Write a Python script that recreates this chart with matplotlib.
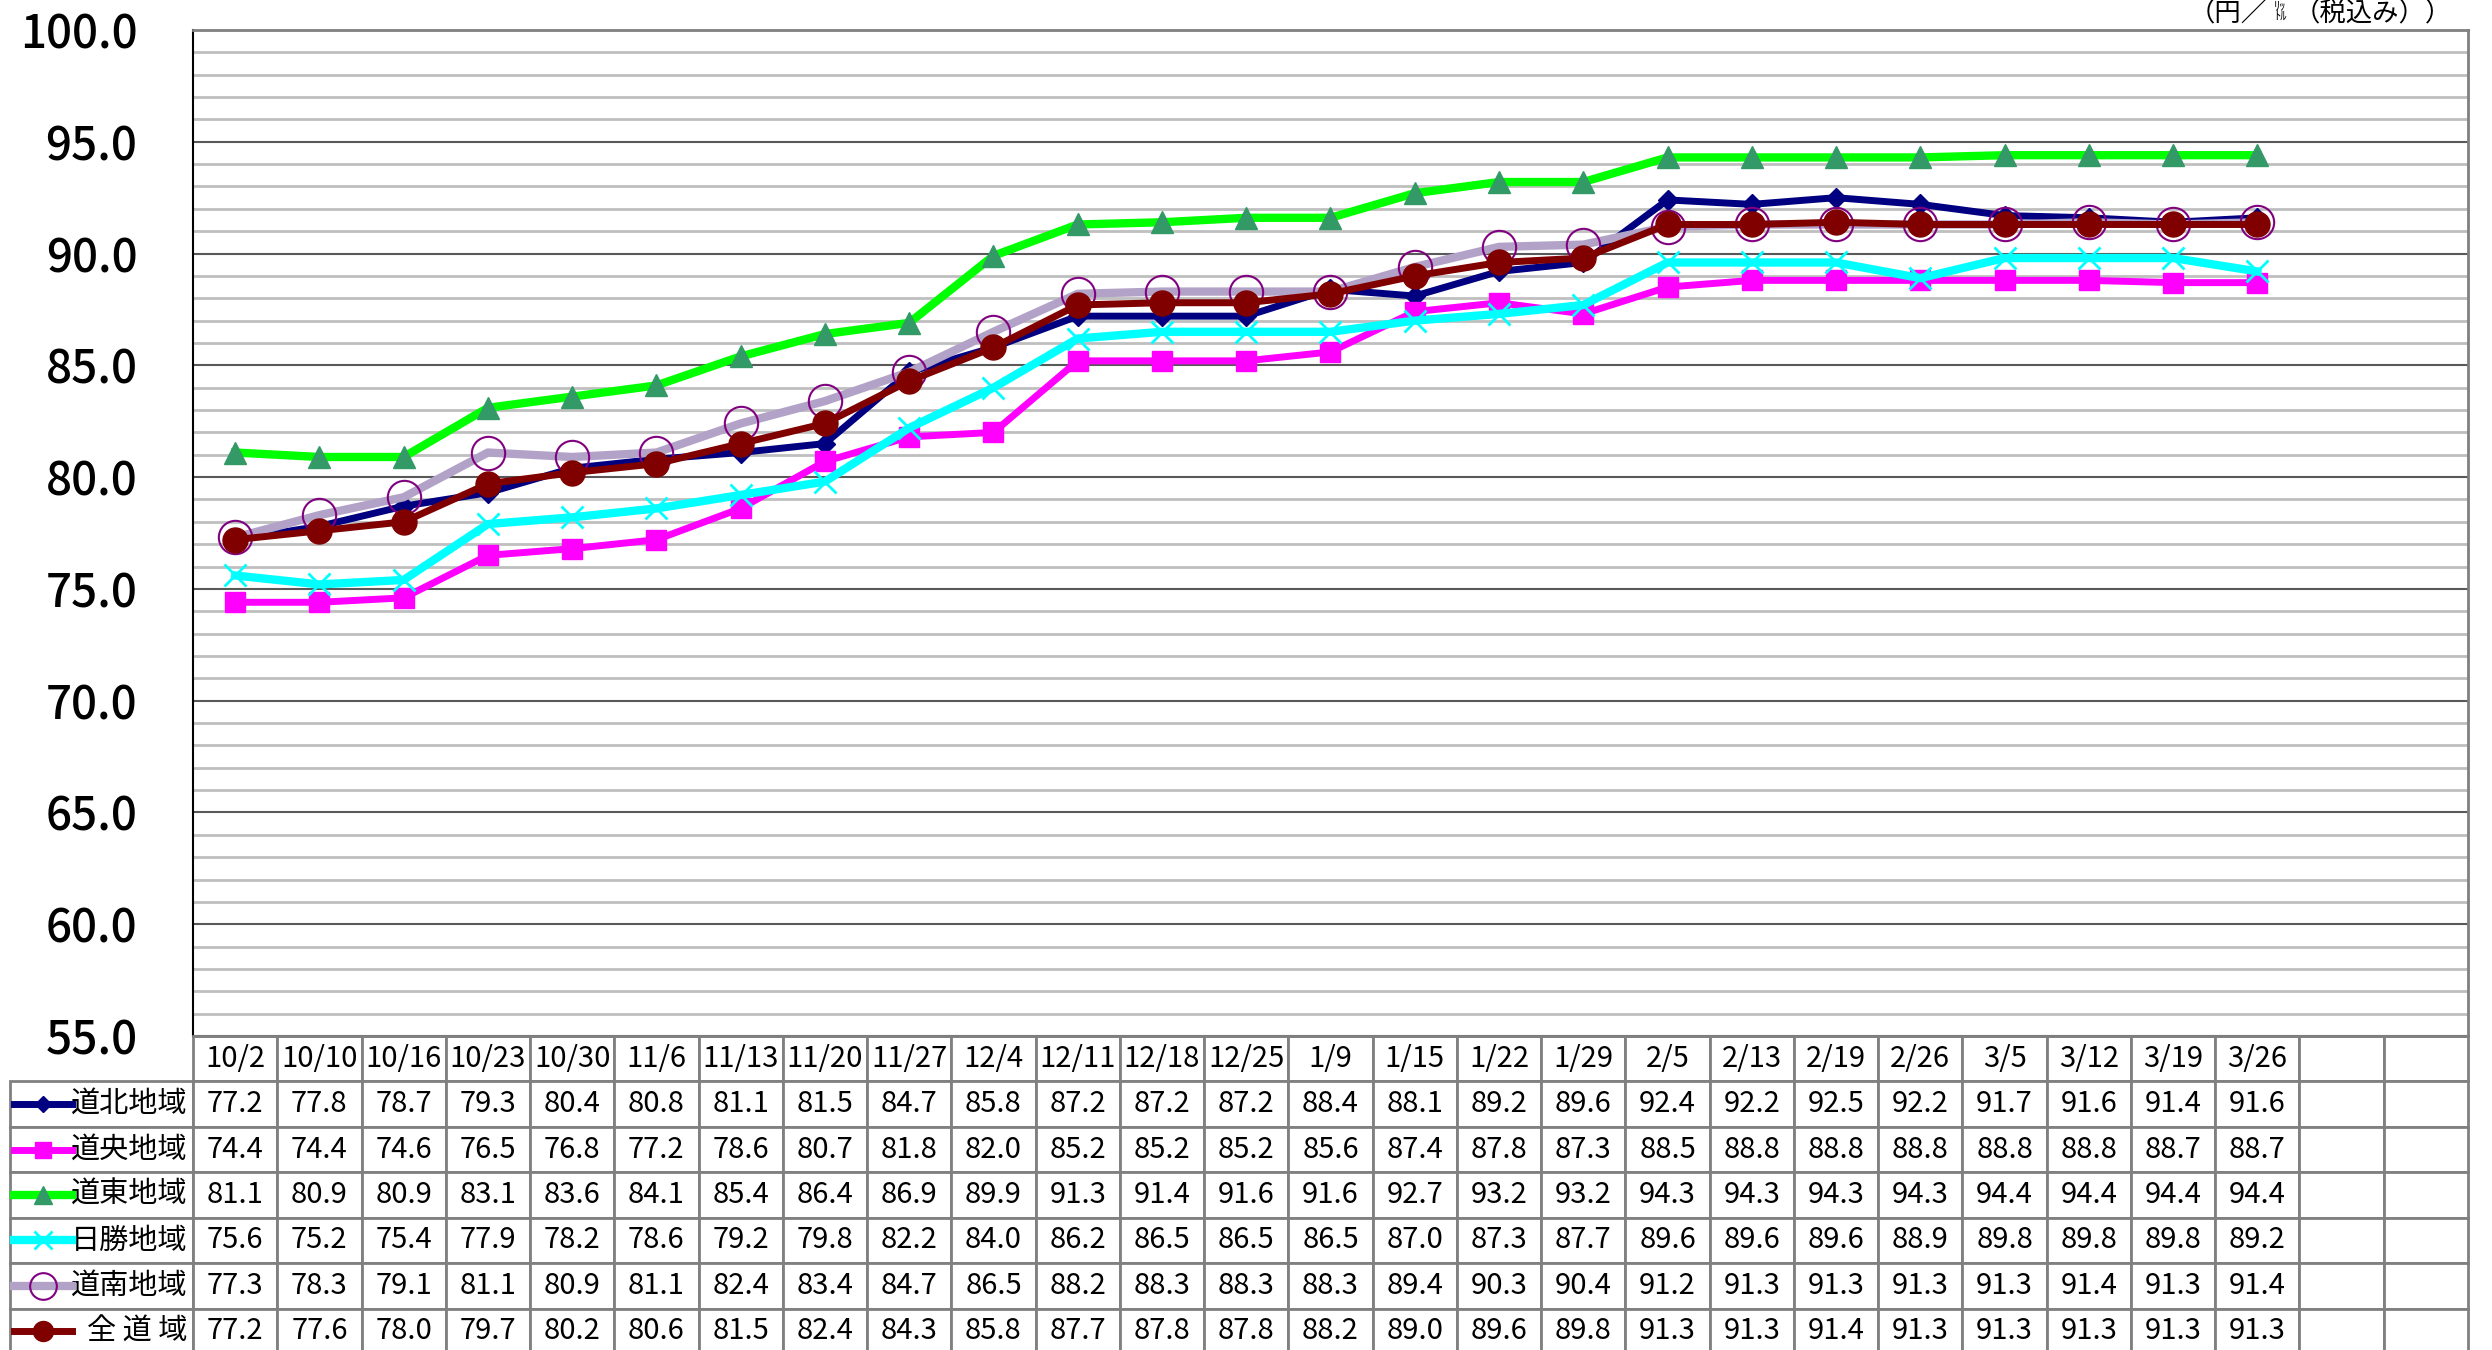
import matplotlib
matplotlib.use("Agg")
import matplotlib.pyplot as plt
from matplotlib.ticker import MultipleLocator

plt.rcParams['font.family'] = ['Noto Sans CJK JP', 'DejaVu Sans']

# データ
dates = ["10/2", "10/10", "10/16", "10/23", "10/30", "11/6", "11/13", "11/20", "11/27",
         "12/4", "12/11", "12/18", "12/25", "1/9", "1/15", "1/22", "1/29", "2/5",
         "2/13", "2/19", "2/26", "3/5", "3/12", "3/19", "3/26"]
blank_cols = ["", ""]
names = ["道北地域", "道央地域", "道東地域", "日勝地域", "道南地域", "全 道 域"]

dohoku = [77.2, 77.8, 78.7, 79.3, 80.4, 80.8, 81.1, 81.5, 84.7, 85.8, 87.2, 87.2, 87.2,
          88.4, 88.1, 89.2, 89.6, 92.4, 92.2, 92.5, 92.2, 91.7, 91.6, 91.4, 91.6]
doou = [74.4, 74.4, 74.6, 76.5, 76.8, 77.2, 78.6, 80.7, 81.8, 82.0, 85.2, 85.2, 85.2,
        85.6, 87.4, 87.8, 87.3, 88.5, 88.8, 88.8, 88.8, 88.8, 88.8, 88.7, 88.7]
doto = [81.1, 80.9, 80.9, 83.1, 83.6, 84.1, 85.4, 86.4, 86.9, 89.9, 91.3, 91.4, 91.6,
        91.6, 92.7, 93.2, 93.2, 94.3, 94.3, 94.3, 94.3, 94.4, 94.4, 94.4, 94.4]
nissho = [75.6, 75.2, 75.4, 77.9, 78.2, 78.6, 79.2, 79.8, 82.2, 84.0, 86.2, 86.5, 86.5,
          86.5, 87.0, 87.3, 87.7, 89.6, 89.6, 89.6, 88.9, 89.8, 89.8, 89.8, 89.2]
donan = [77.3, 78.3, 79.1, 81.1, 80.9, 81.1, 82.4, 83.4, 84.7, 86.5, 88.2, 88.3, 88.3,
         88.3, 89.4, 90.3, 90.4, 91.2, 91.3, 91.3, 91.3, 91.3, 91.4, 91.3, 91.4]
zendo = [77.2, 77.6, 78.0, 79.7, 80.2, 80.6, 81.5, 82.4, 84.3, 85.8, 87.7, 87.8, 87.8,
         88.2, 89.0, 89.6, 89.8, 91.3, 91.3, 91.4, 91.3, 91.3, 91.3, 91.3, 91.3]
series = [dohoku, doou, doto, nissho, donan, zendo]

# 線とマーカーのスタイル
styles = [
    dict(color="#000080", lw=5, marker="D", ms=10, mfc="#000080", mec="#000080"),
    dict(color="#FF00FF", lw=5, marker="s", ms=14, mfc="#FF00FF", mec="#FF00FF"),
    dict(color="#00FF00", lw=6, marker="^", ms=16, mfc="#339966", mec="#339966"),
    dict(color="#00FFFF", lw=6, marker="x", ms=16, mfc="#00FFFF", mec="#00FFFF", mew=2),
    dict(color="#B3A2C7", lw=6, marker="o", ms=24, mfc="none", mec="#800080", mew=1.5),
    dict(color="#800000", lw=5, marker="o", ms=18, mfc="#800000", mec="#800000"),
]

W, H = 2492, 1350
fig = plt.figure(figsize=(W / 100, H / 100), dpi=100)
left, right, top, bottom = 193, 2468, 30, 1036
ax = fig.add_axes([left / W, 1 - bottom / H, (right - left) / W, (bottom - top) / H])

x = list(range(len(dates)))
for s, st in zip(series, styles):
    ax.plot(x, s, **st, zorder=3)

ax.set_xlim(-0.5, len(dates) + len(blank_cols) - 0.5)
ax.set_ylim(55, 100)
ax.yaxis.set_major_locator(MultipleLocator(5))
ax.yaxis.set_minor_locator(MultipleLocator(1))
ax.yaxis.set_major_formatter(lambda v, p: f"{v:.1f}")
ax.tick_params(axis="y", which="both", length=0, labelsize=33, pad=40)
ax.tick_params(axis="x", which="both", length=0, labelbottom=False)
for lab in ax.get_yticklabels():
    lab.set_fontweight("medium")
ax.grid(axis="y", which="minor", color="#BFBFBF", lw=2, zorder=0)
ax.grid(axis="y", which="major", color="#595959", lw=1.5, zorder=1)
ax.set_axisbelow(True)
ax.spines["left"].set_color("black")
ax.spines["left"].set_linewidth(1.5)
for sp in ["top", "right", "bottom"]:
    ax.spines[sp].set_color("#808080")
    ax.spines[sp].set_linewidth(2)

# データテーブル (先頭列は系列名)
cell_text = [[n] + [f"{v:.1f}" for v in s] + ["" for _ in blank_cols]
             for n, s in zip(names, series)]
col_labels = [""] + dates + blank_cols
ncol = len(col_labels) - 1
col_w = (right - left) / ncol
ax_w = right - left
ax_h = bottom - top
tx0 = (10 - left) / ax_w
th = (1354 - bottom) / ax_h
widths = [(left - 10) / col_w] + [1] * ncol
tbl = ax.table(cellText=cell_text, colLabels=col_labels, colWidths=widths,
               cellLoc="center", bbox=[tx0, -th, 1 - tx0, th])
tbl.auto_set_font_size(False)
tbl.set_fontsize(21)
for (r, c), cell in tbl.get_celld().items():
    cell.set_edgecolor("#808080")
    cell.set_linewidth(2)
    if c == 0:
        cell.PAD = 0.03
        cell.get_text().set_ha("right")
        cell._loc = "right"
        if r == 0:
            cell.visible_edges = ""

# 凡例の線見本
row_h = th / (len(names) + 1)
xs = [(14 - left) / ax_w, (43 - left) / ax_w, (72 - left) / ax_w]
for i, st in enumerate(styles):
    yc = -row_h * (i + 1.5)
    legend_st = dict(st)
    legend_st["ms"] = st["ms"] * 0.8
    ax.plot(xs, [yc] * 3, transform=ax.transAxes, clip_on=False, markevery=[1], **legend_st)

# 単位
fig.text(2452 / W, 1 - 21 / H, "（税込み））", fontsize=19, ha="right", va="baseline")
fig.text(2280 / W, 1 - 9 / H, "ﾘｯ", fontsize=9, ha="center", va="baseline")
fig.text(2280 / W, 1 - 21 / H, "ﾄﾙ", fontsize=9, ha="center", va="baseline")
fig.text(2268 / W, 1 - 21 / H, "（円／", fontsize=19, ha="right", va="baseline")

fig.savefig("out.png", dpi=100)
